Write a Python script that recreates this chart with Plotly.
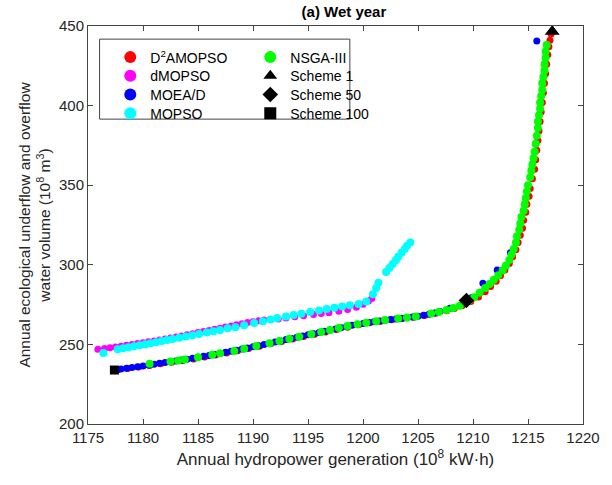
import plotly.graph_objects as go

FONT = "Liberation Sans, Arial, sans-serif"

# ---- data ----
d2_x = [1177.6, 1178.6, 1179.6, 1180.6, 1181.6, 1182.6, 1183.6, 1184.6, 1185.6, 1186.6,
        1187.6, 1188.6, 1189.6, 1190.6, 1191.6, 1192.6, 1193.6, 1194.6, 1195.6, 1196.6,
        1197.6, 1198.6, 1199.6, 1200.6, 1201.6, 1202.6, 1203.6, 1204.6, 1205.6, 1206.6,
        1207.6, 1208.3, 1209.0, 1209.8, 1210.5, 1211.1, 1211.6, 1212.1, 1212.5, 1212.9,
        1213.3, 1213.6, 1213.9, 1214.1, 1214.3, 1214.5, 1214.6, 1214.8, 1214.9, 1215.1,
        1215.2, 1215.4, 1215.6, 1215.7, 1215.8, 1215.9, 1216.0, 1216.1, 1216.2, 1216.3,
        1216.4, 1216.5, 1216.6, 1216.7, 1216.8, 1216.9, 1217.0, 1217.1]
d2_y = [233.8, 234.8, 235.8, 236.8, 237.8, 238.8, 239.9, 240.9, 242.1, 243.4,
        244.6, 246.0, 247.5, 248.9, 250.4, 251.9, 253.4, 254.9, 256.3, 257.8,
        259.3, 260.8, 262.3, 263.6, 264.6, 265.5, 266.3, 267.1, 268.2, 269.6,
        271.2, 272.6, 274.3, 277.0, 279.8, 283.0, 286.4, 289.6, 293.2, 296.8,
        300.8, 305.0, 309.5, 314.0, 318.5, 323.0, 328.0, 333.0, 338.0, 343.0,
        348.0, 354.0, 360.0, 366.0, 372.0, 378.0, 384.0, 390.0, 396.0, 402.0,
        408.0, 414.0, 420.0, 426.0, 432.0, 437.0, 441.0, 445.0]

dm_x = [1175.9, 1176.5, 1177.0, 1177.5, 1178.0, 1178.5, 1179.0, 1179.5, 1180.0, 1180.5,
        1181.0, 1181.5, 1182.0, 1182.5, 1183.0, 1183.5, 1184.0, 1184.5, 1185.0, 1185.5,
        1186.0, 1186.5, 1187.0, 1187.5, 1188.0, 1188.5, 1189.0, 1189.5, 1190.0, 1190.5,
        1191.0, 1191.6, 1192.3, 1193.0, 1193.8, 1194.6, 1195.5, 1196.2, 1196.9, 1197.8,
        1198.6, 1199.4, 1200.0, 1200.5, 1200.8]
dm_y = [247.0, 247.4, 247.9, 248.4, 248.9, 249.4, 249.9, 250.5, 251.0, 251.6,
        252.2, 252.8, 253.4, 254.0, 254.6, 255.3, 256.0, 256.7, 257.4, 258.1,
        258.8, 259.5, 260.2, 260.9, 261.6, 262.3, 263.0, 263.7, 264.3, 264.8,
        265.3, 265.7, 266.0, 266.6, 267.4, 268.0, 268.8, 269.4, 269.9, 270.8,
        271.9, 273.4, 275.2, 277.2, 278.8]

moead_x = [1177.7, 1178.0, 1178.5, 1179.0, 1179.5, 1180.0, 1180.5, 1181.0, 1181.5, 1182.0,
           1182.5, 1183.0, 1183.5, 1184.0, 1184.5, 1185.0, 1185.5, 1186.0, 1186.5, 1187.0,
           1187.5, 1188.0, 1188.5, 1189.0, 1189.5, 1190.0, 1190.5, 1191.0, 1191.5, 1192.0,
           1192.5, 1193.0, 1193.5, 1194.0, 1194.5, 1195.0, 1195.5, 1196.0, 1196.5, 1197.0,
           1197.5, 1198.0, 1198.5, 1199.0, 1199.5, 1200.0, 1200.5, 1201.0, 1201.5, 1202.0,
           1202.5, 1203.0, 1203.5, 1204.0, 1204.5, 1205.0, 1205.5, 1206.0, 1206.5, 1207.0,
           1207.9, 1209.9, 1210.9, 1212.2, 1213.4, 1215.8]
moead_y = [234.0, 234.5, 235.0, 235.5, 236.0, 236.5, 237.0, 237.6, 238.1, 238.6,
           239.1, 239.6, 240.2, 240.7, 241.3, 241.9, 242.5, 243.1, 243.7, 244.3,
           245.0, 245.7, 246.4, 247.1, 247.8, 248.5, 249.2, 250.0, 250.7, 251.5,
           252.2, 253.0, 253.7, 254.5, 255.2, 256.0, 256.7, 257.5, 258.2, 259.0,
           259.7, 260.5, 261.2, 262.0, 262.6, 263.2, 263.8, 264.3, 264.7, 265.2,
           265.6, 266.0, 266.4, 266.8, 267.2, 267.7, 268.3, 269.0, 269.8, 270.6,
           272.7, 279.5, 288.4, 296.7, 307.6, 440.6]

mopso_x = [1176.4, 1177.7, 1178.2, 1178.7, 1179.2, 1179.7, 1180.2, 1180.7, 1181.2, 1181.7,
           1182.2, 1182.7, 1183.3, 1183.9, 1184.5, 1185.1, 1185.8, 1186.4, 1187.0, 1187.7,
           1188.4, 1189.2, 1190.1, 1190.9, 1191.6, 1192.2, 1193.0, 1193.7, 1194.4, 1195.2,
           1196.0, 1196.7, 1197.4, 1198.1, 1198.8, 1199.6, 1200.3, 1200.9, 1201.2, 1201.4,
           1202.1, 1202.4, 1202.7, 1203.0, 1203.2, 1203.5, 1203.8, 1204.0, 1204.3]
mopso_y = [244.6, 247.0, 247.6, 248.2, 248.8, 249.5, 250.1, 250.8, 251.4, 252.1,
           252.7, 253.4, 254.2, 255.0, 255.7, 256.5, 257.4, 258.2, 259.1, 260.1,
           260.8, 262.0, 263.4, 264.6, 265.6, 266.6, 267.6, 268.5, 269.3, 270.3,
           271.3, 272.2, 273.0, 273.8, 274.6, 275.4, 277.0, 281.5, 285.5, 288.8,
           295.5, 298.0, 300.5, 303.0, 305.0, 307.5, 310.0, 312.0, 314.0]

nsga_x = [1180.6, 1182.5, 1183.2, 1183.8, 1185.0, 1186.3, 1187.0, 1188.3, 1189.2, 1190.3,
          1191.5, 1192.4, 1193.3, 1194.2, 1195.3, 1196.2, 1197.0, 1197.8, 1198.6, 1199.5,
          1200.3, 1201.2, 1202.0, 1203.2, 1204.0, 1204.8, 1206.2, 1206.9, 1207.6, 1208.2,
          1208.8, 1209.6, 1210.1, 1210.6, 1211.1, 1211.5, 1211.9, 1212.3, 1212.7, 1213.0,
          1213.3, 1213.5, 1213.7, 1213.9, 1214.0, 1214.2, 1214.3, 1214.4, 1214.6, 1214.7,
          1214.8, 1214.9, 1215.0, 1215.2, 1215.3, 1215.4, 1215.5, 1215.6, 1215.7, 1215.8,
          1215.9, 1215.9, 1216.0, 1216.1, 1216.1, 1216.2, 1216.3, 1216.3, 1216.4, 1216.5,
          1216.5, 1216.6, 1216.6, 1216.7]
nsga_y = [237.8, 239.3, 239.9, 240.5, 242.0, 243.5, 244.4, 245.9, 247.3, 249.0,
          250.8, 252.1, 253.5, 254.8, 256.4, 257.8, 259.1, 260.3, 261.5, 262.7,
          263.6, 264.5, 265.3, 266.3, 266.9, 267.6, 269.4, 270.4, 271.6, 272.9,
          274.2, 277.3, 279.6, 282.4, 285.4, 288.0, 290.6, 293.4, 296.6, 299.6,
          303.0, 306.5, 310.0, 314.0, 318.0, 322.0, 326.0, 330.0, 334.0, 338.0,
          342.0, 346.0, 350.0, 355.0, 359.0, 363.0, 367.0, 371.0, 376.0, 381.0,
          386.0, 390.0, 394.0, 398.0, 402.0, 406.0, 410.0, 414.0, 418.0, 422.0,
          426.0, 430.0, 434.0, 438.0]

scheme_x = [1217.2, 1209.4, 1177.4]
scheme_y = [446.5, 277.6, 233.9]
scheme_names = ["Scheme 1", "Scheme 50", "Scheme 100"]
scheme_symbols = ["triangle-up", "diamond", "square"]
scheme_sizes = [13, 12, 9]

x_ticks = [1175, 1180, 1185, 1190, 1195, 1200, 1205, 1210, 1215, 1220]
y_ticks = [200, 250, 300, 350, 400, 450]

fig = go.Figure()

# legend rows: each row is a horizontal legend holding two entries
def add_series(x, y, name, color, size, legend):
    fig.add_trace(go.Scatter(
        x=x, y=y, mode="markers", name=name, legend=legend,
        marker=dict(color=color, size=size, symbol="circle", line=dict(width=0)),
    ))

add_series(d2_x, d2_y, "D<sup>2</sup>AMOPSO", "#ff0000", 7, "legend")
add_series(dm_x, dm_y, "dMOPSO", "#ff00ff", 7, "legend2")
add_series(moead_x, moead_y, "MOEA/D", "#0000ff", 7, "legend3")
add_series(mopso_x, mopso_y, "MOPSO", "#00ffff", 8, "legend4")
add_series(nsga_x, nsga_y, "NSGA-III", "#00ff00", 8, "legend")

scheme_legends = ["legend2", "legend3", "legend4"]
for sx, sy, nm, sym, sz, lg in zip(scheme_x, scheme_y, scheme_names, scheme_symbols,
                                   scheme_sizes, scheme_legends):
    fig.add_trace(go.Scatter(
        x=[sx], y=[sy], mode="markers", name=nm, legend=lg, cliponaxis=False,
        marker=dict(color="black", size=sz, symbol=sym, line=dict(width=0)),
    ))

axis_common = dict(
    showgrid=False, zeroline=False, showline=True, linecolor="#444444", linewidth=1,
    mirror="ticks", ticks="inside", ticklen=5, tickcolor="#444444",
    tickfont=dict(family=FONT, size=15, color="#262626"),
    ticklabeloverflow="allow",
)

fig.update_xaxes(
    range=[1175, 1220], tickvals=x_ticks, **axis_common,
    title=dict(text="Annual hydropower generation (10<sup>8</sup> kW·h)",
               font=dict(family=FONT, size=17, color="#262626"), standoff=8),
)
fig.update_yaxes(
    range=[200, 450], tickvals=y_ticks, **axis_common,
    title=dict(text="Annual ecological underflow and overflow<br>water volume (10<sup>8</sup> m<sup>3</sup>)",
               font=dict(family=FONT, size=15.5, color="#262626"), standoff=4),
)

legend_common = dict(
    bgcolor="rgba(0,0,0,0)", borderwidth=0, yanchor="top", xanchor="left",
    orientation="h", entrywidth=95, entrywidthmode="pixels",
    font=dict(family=FONT, size=14, color="#000000"), itemclick=False,
    itemsizing="constant", x=0.045,
)

fig.update_layout(
    width=612, height=485,
    margin=dict(l=88, r=12, t=26, b=61),
    paper_bgcolor="white", plot_bgcolor="white",
    title=dict(text="<b>(a) Wet year</b>", x=0.562, xanchor="center", y=0.975, yanchor="middle",
               font=dict(family=FONT, size=15, color="black")),
    legend=dict(y=0.961, **legend_common),
    legend2=dict(y=0.914, **legend_common),
    legend3=dict(y=0.867, **legend_common),
    legend4=dict(y=0.820, **legend_common),
    shapes=[dict(type="rect", xref="paper", yref="paper", x0=0.0234, x1=0.529,
                 y0=0.766, y1=0.967, line=dict(color="#444444", width=1),
                 fillcolor="rgba(0,0,0,0)")],
)

fig.write_html("out.html")
